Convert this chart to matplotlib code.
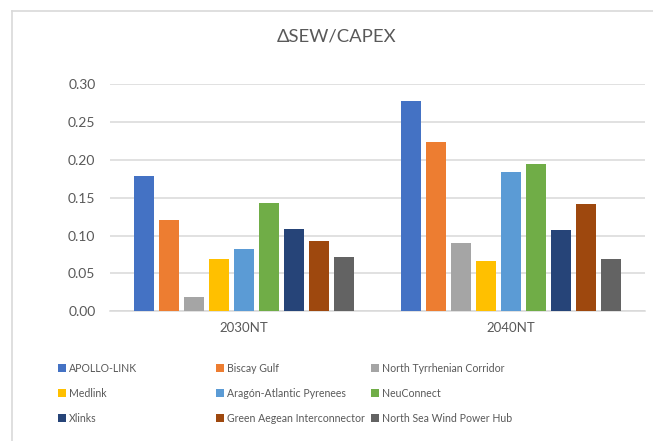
import matplotlib
matplotlib.use("Agg")
import matplotlib.pyplot as plt
from matplotlib.patches import Patch
from matplotlib.lines import Line2D
import numpy as np

plt.rcParams['font.family'] = ['Lato', 'DejaVu Sans']

categories = ["2030NT", "2040NT"]
projects = ["APOLLO-LINK", "Biscay Gulf", "North Tyrrhenian Corridor",
            "Medlink", "Aragón-Atlantic Pyrenees", "NeuConnect",
            "Xlinks", "Green Aegean Interconnector", "North Sea Wind Power Hub"]
values_2030 = [0.178, 0.120, 0.019, 0.069, 0.082, 0.143, 0.108, 0.093, 0.072]
values_2040 = [0.278, 0.224, 0.090, 0.066, 0.184, 0.194, 0.107, 0.142, 0.0695]
colors = ["#4472C4", "#ED7D31", "#A5A5A5", "#FFC000", "#5B9BD5",
          "#70AD47", "#264478", "#9E480E", "#636363"]
yticks = [0.00, 0.05, 0.10, 0.15, 0.20, 0.25, 0.30]

W, H = 653, 441
fig = plt.figure(figsize=(W/100, H/100), dpi=100)
ax = fig.add_axes([110/W, 1-311.3/H, (645-110)/W, (311.3-84)/H])

txt = "#595959"
pitch = 0.0935
bw = 0.076
x = np.arange(len(categories))
n = len(projects)
for i, (p, c) in enumerate(zip(projects, colors)):
    off = (i - (n-1)/2) * pitch
    ax.bar(x + off, [values_2030[i], values_2040[i]], width=bw, color=c,
           label=p, zorder=3)

ax.set_xlim(-0.5, 1.5)
ax.set_ylim(0, 0.30)
ax.set_yticks(yticks)
ax.set_yticklabels([f"{v:.2f}" for v in yticks], color=txt, fontsize=10)
ax.set_xticks(x)
ax.set_xticklabels(categories, color=txt, fontsize=9.5)
ax.tick_params(axis='both', length=0)
ax.tick_params(axis='y', pad=10.5)
ax.tick_params(axis='x', pad=8)
ax.grid(axis='y', color="#D9D9D9", linewidth=1.1, zorder=0)
for s in ["top", "right", "left"]:
    ax.spines[s].set_visible(False)
ax.spines["bottom"].set_color("#D9D9D9")
ax.spines["bottom"].set_linewidth(1.1)

fig.text(337/W, 1-37/H, "ΔSEW/CAPEX", ha="center", va="center",
         fontsize=13.3, color=txt)

handles = [Patch(facecolor=c, edgecolor="none") for c in colors]
col_x = [58, 216, 371]
for cidx in range(3):
    hs = handles[cidx::3]
    ls = projects[cidx::3]
    leg = fig.legend(hs, ls, loc="upper left",
                     bbox_to_anchor=(col_x[cidx]/W, 1-363/H),
                     frameon=False, fontsize=7.6, handlelength=0.75,
                     handleheight=0.75, handletextpad=0.3, labelspacing=1.32,
                     borderaxespad=0, borderpad=0)
    for t in leg.get_texts():
        t.set_color(txt)

# chart border lines
fig.add_artist(Line2D([11.5/W, 11.5/W], [0, 1-10.5/H], transform=fig.transFigure,
                      color="#D9D9D9", linewidth=1.2))
fig.add_artist(Line2D([11.5/W, 1], [1-10.5/H, 1-10.5/H], transform=fig.transFigure,
                      color="#D9D9D9", linewidth=1.2))

fig.savefig("out.png", dpi=100)
